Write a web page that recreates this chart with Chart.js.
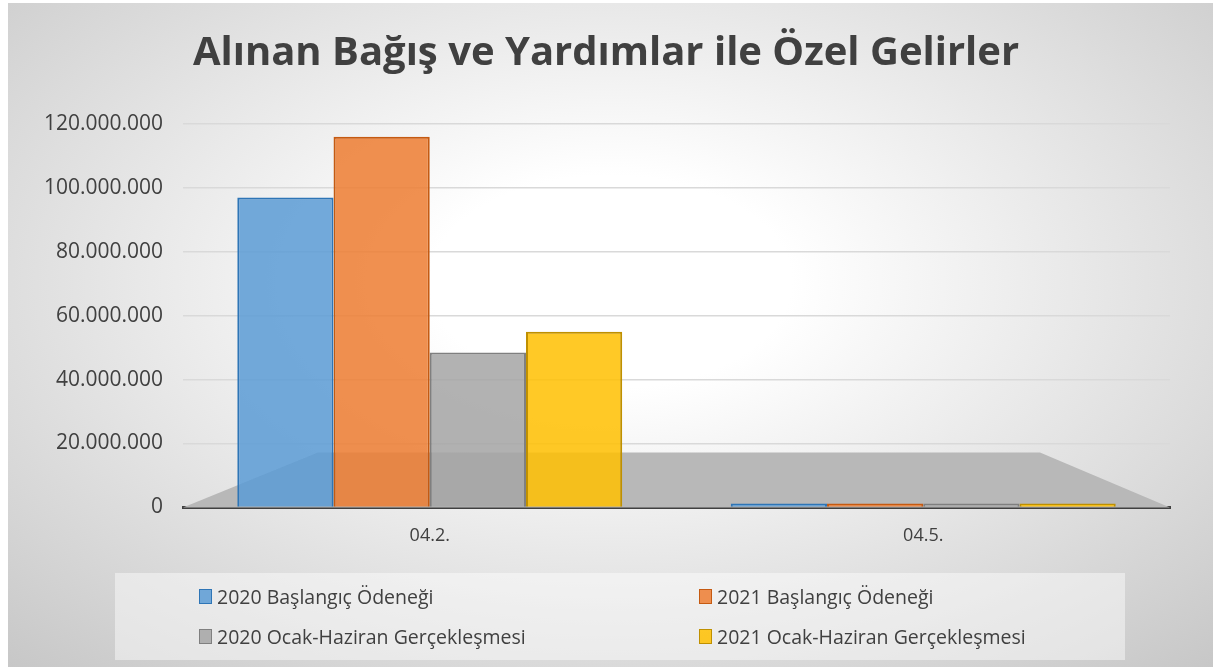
<!DOCTYPE html>
<html>
<head>
<meta charset="utf-8">
<script src="https://cdn.jsdelivr.net/npm/chart.js@4.4.1/dist/chart.umd.min.js"></script>
<style>
  body { margin: 0; background: #fff; }
  #wrap {
    position: absolute; left: 8px; top: 3px; width: 1205px; height: 664px;
    background: radial-gradient(ellipse 75% 80% at 50% 42%, #ffffff 20%, #c6c6c6 100%);
  }
  #legend {
    position: absolute; left: 107px; top: 570px; width: 1010px; height: 87px;
    background: rgba(255,255,255,0.45);
    font-family: "Open Sans", sans-serif; font-size: 19.5px; color: #404040;
  }
  #legend .item { position: absolute; display: flex; align-items: center; white-space: nowrap; }
  #legend .box { width: 13px; height: 15px; border-width: 1.5px; border-style: solid; margin-right: 5px; box-sizing: border-box; }
</style>
</head>
<body>
<div id="wrap">
  <canvas id="barChart"></canvas>
  <div id="legend"></div>
</div>
<script>
const categories = ["04.2.", "04.5."]
const seriesNames = [
  "2020 Başlangıç Ödeneği",
  "2021 Başlangıç Ödeneği",
  "2020 Ocak-Haziran Gerçekleşmesi",
  "2021 Ocak-Haziran Gerçekleşmesi"
]
const start2020 = [97000000, 1200000]
const start2021 = [116000000, 1200000]
const real2020 = [48500000, 1200000]
const real2021 = [55000000, 1200000]

const fills = ["rgba(91,155,213,0.85)", "rgba(237,125,49,0.85)", "rgba(165,165,165,0.85)", "rgba(255,192,0,0.85)"]
const borders = ["#2e75b6", "#c55a11", "#7f7f7f", "#bf9000"]

function formatNumber(v) {
  return String(v).replace(/\B(?=(\d{3})+(?!\d))/g, ".")
}

// gray 3d-ish floor under the bars
const floorPlugin = {
  id: "floor",
  beforeDatasetsDraw(chart) {
    const { ctx, chartArea } = chart
    const y0 = chart.scales.y.getPixelForValue(0)
    ctx.save()
    ctx.fillStyle = "#b8b8b8"
    ctx.beginPath()
    ctx.moveTo(chartArea.left, y0)
    ctx.lineTo(chartArea.left + 135, y0 - 55)
    ctx.lineTo(chartArea.right - 130, y0 - 55)
    ctx.lineTo(chartArea.right, y0)
    ctx.closePath()
    ctx.fill()
    ctx.restore()
  }
}

// html legend in two columns
const legendPlugin = {
  id: "htmlLegend",
  afterUpdate(chart) {
    const el = document.getElementById("legend")
    el.innerHTML = ""
    const items = chart.options.plugins.legend.labels.generateLabels(chart)
    items.forEach((item, i) => {
      const div = document.createElement("div")
      div.className = "item"
      div.style.left = (84 + (i % 2) * 500) + "px"
      div.style.top = (10 + Math.floor(i / 2) * 40) + "px"
      const box = document.createElement("span")
      box.className = "box"
      box.style.background = item.fillStyle
      box.style.borderColor = item.strokeStyle
      div.appendChild(box)
      div.appendChild(document.createTextNode(item.text))
      el.appendChild(div)
    })
  }
}

const ctx = document.getElementById("barChart").getContext("2d")
const values = [start2020, start2021, real2020, real2021]

new Chart(ctx, {
  type: "bar",
  data: {
    labels: categories,
    datasets: seriesNames.map((name, i) => ({
      label: name,
      data: values[i],
      backgroundColor: fills[i],
      borderColor: borders[i],
      borderWidth: 2,
      categoryPercentage: 0.78,
      barPercentage: 1.0,
    }))
  },
  options: {
    responsive: true,
    maintainAspectRatio: false,
    animation: false,
    layout: { padding: { left: 34, right: 43, top: 0, bottom: 110 } },
    plugins: {
      legend: { display: false },
      tooltip: { enabled: false },
      title: {
        display: true,
        text: "Alınan Bağış ve Yardımlar ile Özel Gelirler",
        color: "#404040",
        font: { family: "'Open Sans', sans-serif", size: 40, weight: "bold" },
        padding: { top: 27, bottom: 46 }
      }
    },
    scales: {
      x: {
        grid: { display: false },
        border: { display: true, color: "#404040", width: 3 },
        ticks: { color: "#404040", padding: 10, font: { family: "'Open Sans', sans-serif", size: 18 } }
      },
      y: {
        min: 0,
        max: 120000000,
        afterFit: scale => { scale.width = 141 },
        grid: { color: "#d9d9d9", lineWidth: 1.5, drawTicks: false },
        border: { display: false },
        ticks: {
          stepSize: 20000000,
          padding: 20,
          color: "#404040",
          font: { family: "'Open Sans', sans-serif", size: 21 },
          callback: v => formatNumber(v)
        }
      }
    }
  },
  plugins: [floorPlugin, legendPlugin]
})
</script>
</body>
</html>
